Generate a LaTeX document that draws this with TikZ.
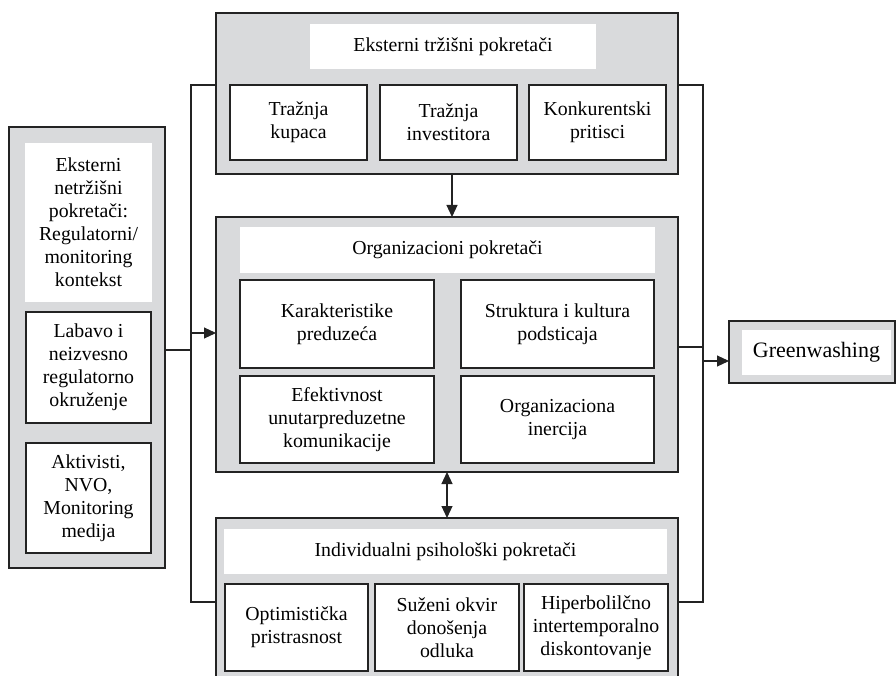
\documentclass[tikz,border=0pt]{standalone}
\usepackage{fontspec}
\setmainfont{Liberation Serif}
\usetikzlibrary{arrows.meta,calc}
\definecolor{panelgrey}{RGB}{217,218,220}
\definecolor{ink}{RGB}{35,35,35}
\begin{document}
\begin{tikzpicture}[x=1pt,y=-1pt,
  panel/.style={draw=ink,fill=panelgrey,line width=1.3pt,inner sep=0pt,outer sep=0pt},
  titlebox/.style={fill=white,inner sep=0pt,outer sep=0pt,align=center,font=\fontsize{19.8}{23}\selectfont},
  itembox/.style={draw=ink,fill=white,line width=1.2pt,inner sep=0pt,outer sep=0pt,align=center,font=\fontsize{19.8}{23}\selectfont},
  conn/.style={draw=ink,line width=1.1pt},
  arr/.style={conn,-{Triangle[length=12pt,width=11pt]}},
  arrtwo/.style={conn,{Triangle[length=12pt,width=11pt]}-{Triangle[length=12pt,width=11pt]}}]
\clip (0,0) rectangle (896,676);
\fill[white] (0,0) rectangle (896,676);

% top panel
\node[panel,minimum width=462pt,minimum height=161pt] (topbox) at (447,93.5) {};
\node[titlebox,minimum width=286pt,minimum height=45pt] (toptitle) at (453,46.5) {Eksterni tržišni pokretači};
\node[itembox,minimum width=137pt,minimum height=75pt] (T1) at (298.5,122.5) {Tražnja\\kupaca};
\node[itembox,minimum width=137pt,minimum height=75pt] (T2) at (448.5,122.5) {Tražnja\\investitora};
\node[itembox,minimum width=137pt,minimum height=75pt] (T3) at (597.5,122.5) {Konkurentski\\pritisci};

% middle panel
\node[panel,minimum width=462pt,minimum height=255pt] (midbox) at (447,344.5) {};
\node[titlebox,minimum width=415pt,minimum height=46pt] (midtitle) at (447.5,250) {Organizacioni pokretači};
\node[itembox,minimum width=194pt,minimum height=88pt] (M1) at (337,324) {Karakteristike\\preduzeća};
\node[itembox,minimum width=193pt,minimum height=88pt] (M2) at (557.5,324) {Struktura i kultura\\podsticaja};
\node[itembox,minimum width=194pt,minimum height=87pt] (M3) at (337,419.5) {Efektivnost\\unutarpreduzetne\\komunikacije};
\node[itembox,minimum width=193pt,minimum height=87pt] (M4) at (557.5,419.5) {Organizaciona\\inercija};

% bottom panel
\node[panel,minimum width=462pt,minimum height=182pt] (botbox) at (447,609) {};
\node[titlebox,minimum width=443pt,minimum height=45pt] (bottitle) at (445.5,551.5) {Individualni psihološki pokretači};
\node[itembox,minimum width=143pt,minimum height=87pt] (B1) at (296.5,627.5) {Optimistička\\pristrasnost};
\node[itembox,minimum width=144pt,minimum height=87pt] (B2) at (447,627.5) {Suženi okvir\\donošenja\\odluka};
\node[itembox,minimum width=144pt,minimum height=87pt] (B3) at (596,627.5) {Hiperbolilčno\\intertemporalno\\diskontovanje};

% left panel
\node[panel,minimum width=156pt,minimum height=441pt] (leftbox) at (87,347.5) {};
\node[titlebox,minimum width=127pt,minimum height=159pt] (lefttitle) at (88.5,222.5) {Eksterni\\netržišni\\pokretači:\\Regulatorni/\\monitoring\\kontekst};
\node[itembox,minimum width=125pt,minimum height=111pt] (L1) at (88.5,367.5) {Labavo i\\neizvesno\\regulatorno\\okruženje};
\node[itembox,minimum width=125pt,minimum height=110pt] (L2) at (88.5,498) {Aktivisti,\\NVO,\\Monitoring\\medija};

% greenwashing
\node[panel,minimum width=166pt,minimum height=62pt] (green) at (812,352) {};
\node[titlebox,minimum width=149pt,minimum height=45pt,font=\fontsize{22}{26}\selectfont] (greentitle) at (816.5,352.5) {Greenwashing};

% connectors
\coordinate (lb1) at (191,85);
\coordinate (lb2) at (191,602);
\coordinate (rb1) at (703,85);
\coordinate (rb2) at (703,602);
\draw[conn] (topbox.west |- lb1) -- (lb1) -- (lb2) -- (botbox.west |- lb2);
\draw[conn] (topbox.east |- rb1) -- (rb1) -- (rb2) -- (botbox.east |- rb2);
\coordinate (lj) at (191,350);
\draw[conn] (leftbox.east |- lj) -- (lj);
\coordinate (la) at (191,333);
\draw[arr] (la) -- (midbox.west |- la);
\coordinate (rj) at (703,347);
\draw[conn] (midbox.east |- rj) -- (rj);
\coordinate (ra) at (703,361);
\draw[arr] (ra) -- (green.west |- ra);
\coordinate (ta) at (452,0);
\draw[arr] (topbox.south -| ta) -- (midbox.north -| ta);
\coordinate (da) at (447,0);
\draw[arrtwo] (midbox.south -| da) -- (botbox.north -| da);
\end{tikzpicture}
\end{document}
